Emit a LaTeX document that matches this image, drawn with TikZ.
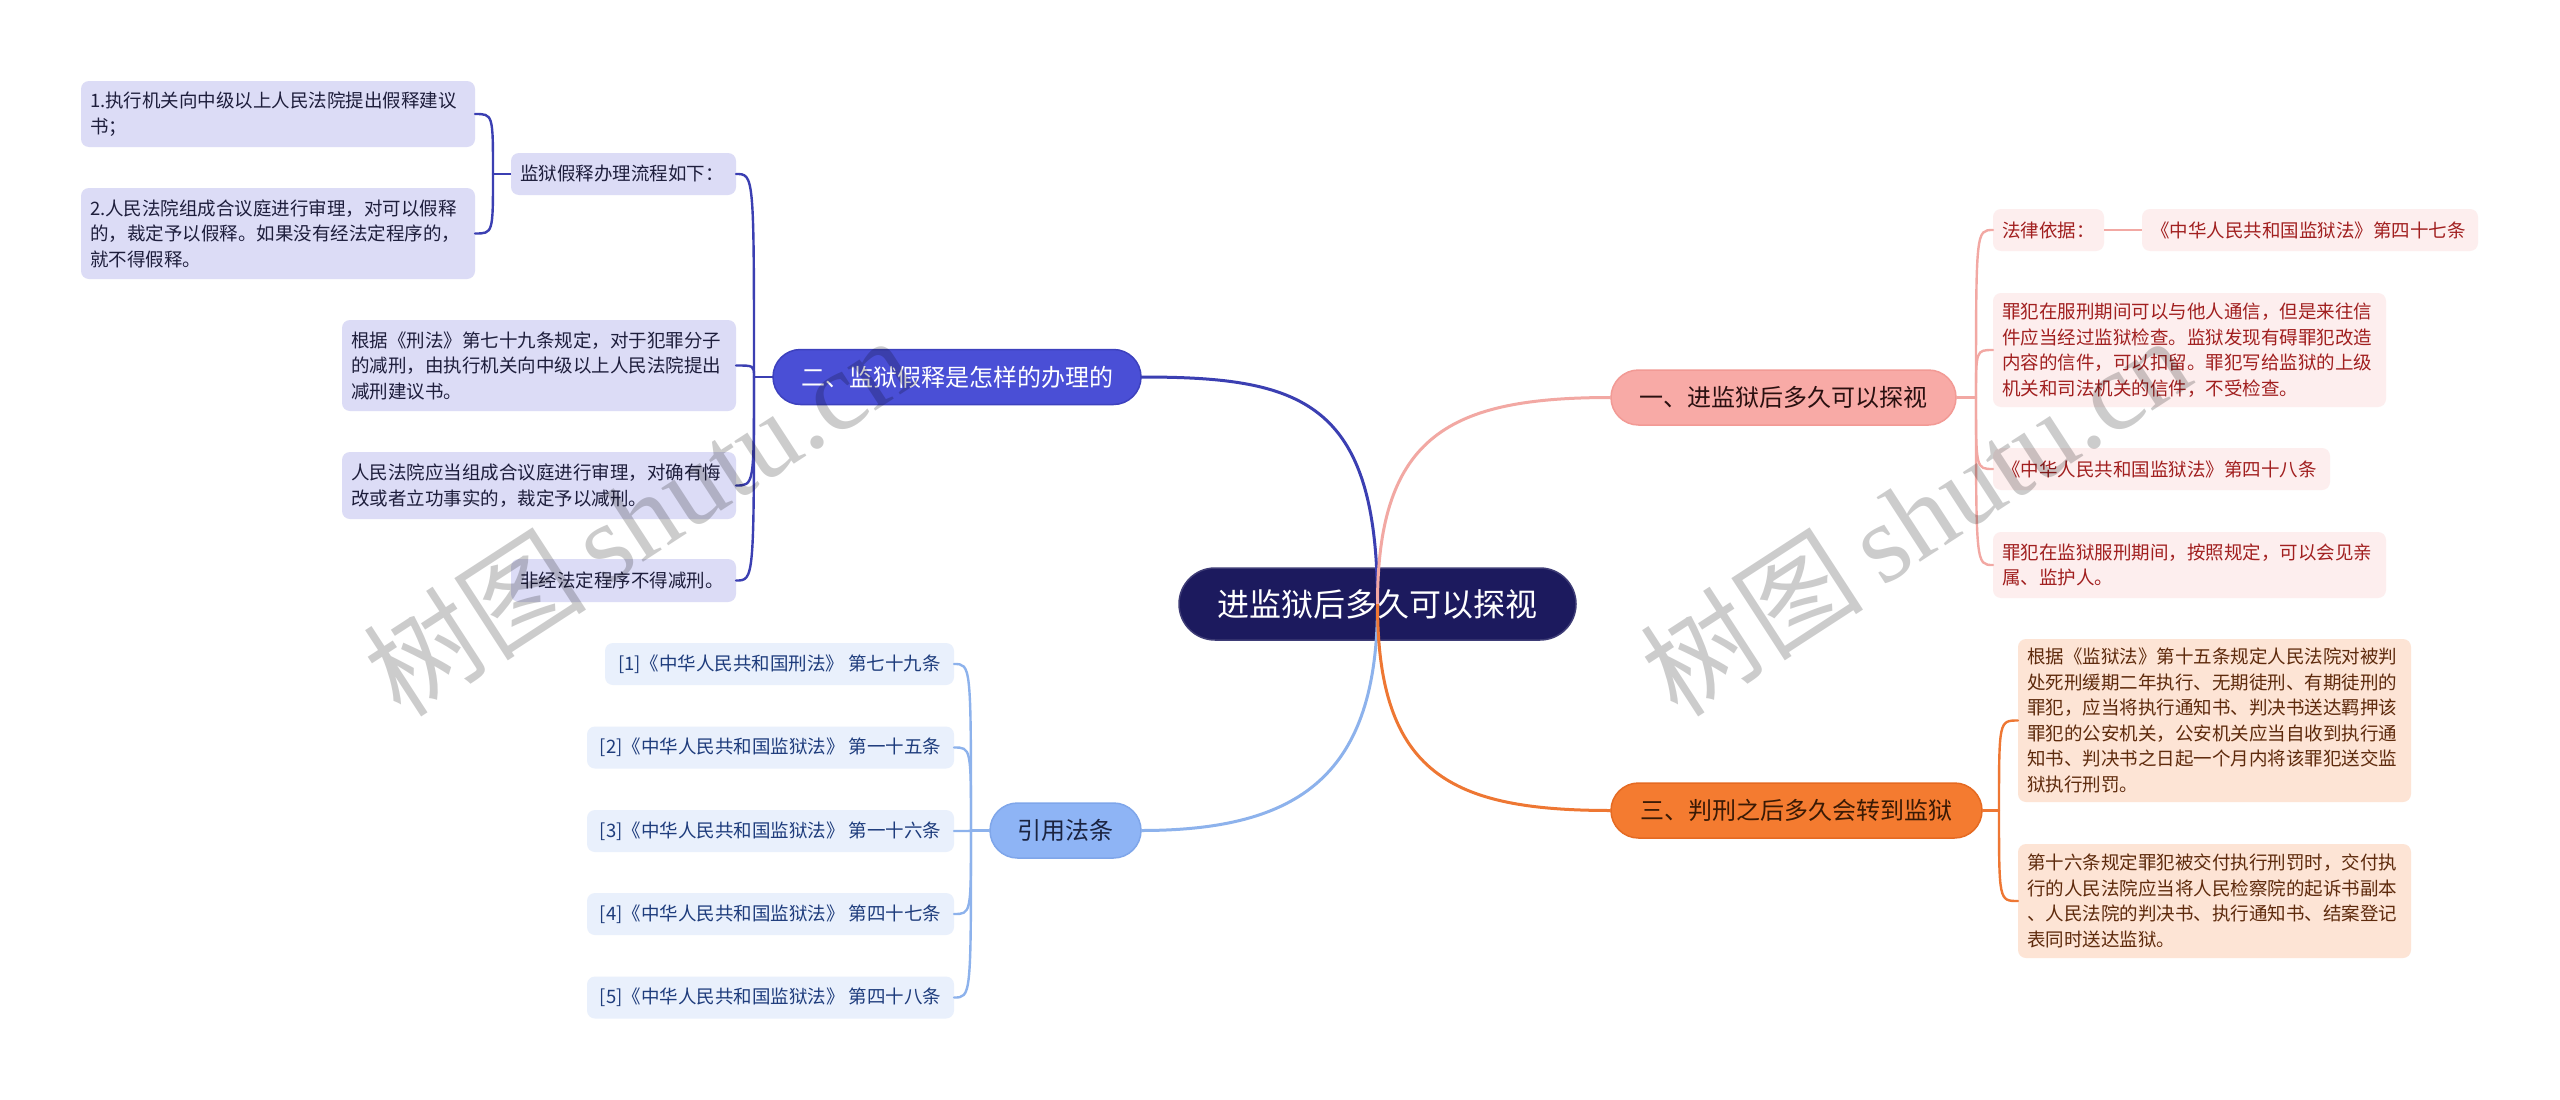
\documentclass[tikz,border=0pt]{standalone}
\usepackage{fontspec}
\setmainfont{Noto Sans CJK SC}
\newfontfamily\wmserif{Liberation Serif}
\newcommand\smallfs{\fontsize{18.5}{25.5}\selectfont}
\newcommand\branchfs{\fontsize{24}{28}\selectfont}
\newcommand\rootfs{\fontsize{32}{38}\selectfont}
\newcommand\wmfs{\fontsize{112}{120}\selectfont}
\definecolor{rootc}{HTML}{1C1A5E}
\definecolor{twoc}{HTML}{4A4FD6}
\definecolor{twob}{HTML}{3D41BE}
\definecolor{twol}{HTML}{3B3FB2}
\definecolor{twof}{HTML}{DCDCF6}
\definecolor{twot}{HTML}{1E1E3C}
\definecolor{onec}{HTML}{F8AAA6}
\definecolor{oneb}{HTML}{F29A95}
\definecolor{onel}{HTML}{F2A8A3}
\definecolor{onef}{HTML}{FDEEEE}
\definecolor{onet}{HTML}{A11F1F}
\definecolor{onett}{HTML}{2A1010}
\definecolor{thrc}{HTML}{F47B30}
\definecolor{thrb}{HTML}{E56A22}
\definecolor{thrl}{HTML}{EE7733}
\definecolor{thrf}{HTML}{FDE4D5}
\definecolor{thrt}{HTML}{5E2A0C}
\definecolor{thrtt}{HTML}{3A1A05}
\definecolor{refc}{HTML}{8EB4F5}
\definecolor{refb}{HTML}{7FA6EA}
\definecolor{refl}{HTML}{8DB2EC}
\definecolor{reff}{HTML}{E9F0FC}
\definecolor{reft}{HTML}{1E3C7C}
\definecolor{reftt}{HTML}{1A2340}
\tikzset{
  base/.style={rounded corners=8pt, inner xsep=9pt, inner ysep=0pt, outer sep=0pt, align=left, font=\smallfs},
  twobox/.style={base, fill=twof, text=twot},
  onebox/.style={base, fill=onef, text=onet},
  thrbox/.style={base, fill=thrf, text=thrt},
  refbox/.style={base, fill=reff, text=reft, align=center, minimum height=42pt},
  branch/.style={rounded corners=27.5pt, minimum height=55pt, inner sep=0pt, outer sep=0pt, align=center, font=\branchfs, line width=1.5pt},
  rootbox/.style={rounded corners=36pt, minimum height=72pt, minimum width=397pt, inner sep=0pt, outer sep=0pt, fill=rootc, draw=rootc!85!white, line width=1.5pt, text=white, font=\rootfs},
  mainline/.style={line width=3pt},
  subline/.style={line width=2.4pt},
  wm/.style={text=black, opacity=0.2, rotate=33, font=\wmfs}
}
\begin{document}
\begin{tikzpicture}[x=1pt,y=-1pt]
\fill[white] (0,0) rectangle (2560,1100);
\useasboundingbox (0,0) rectangle (2560,1100);

% ---------- root ----------
\node[rootbox] (root) at (1377.5,604) {进监狱后多久可以探视};

% ---------- branch nodes ----------
\node[branch, fill=twoc, draw=twob, text=white, minimum width=368pt] (B2) at (957,377) {二、监狱假释是怎样的办理的};
\node[branch, fill=refc, draw=refb, text=reftt, minimum width=151pt] (B4) at (1065.5,830.5) {引用法条};
\node[branch, fill=onec, draw=oneb, text=onett, minimum width=345pt] (B1) at (1783.5,397.5) {一、进监狱后多久可以探视};
\node[branch, fill=thrc, draw=thrb, text=thrtt, minimum width=371pt] (B3) at (1796.5,810.5) {三、判刑之后多久会转到监狱};

% ---------- branch 二 children ----------
\node[twobox, text width=207pt, minimum height=42pt] (L0) at (623.5,174) {监狱假释办理流程如下：};
\node[twobox, text width=376pt, minimum height=66pt] (L1) at (278,114) {1.执行机关向中级以上人民法院提出假释建议\\书；};
\node[twobox, text width=376pt, minimum height=91pt] (L2) at (278,233.5) {2.人民法院组成合议庭进行审理，对可以假释\\的，裁定予以假释。如果没有经法定程序的，\\就不得假释。};
\node[twobox, text width=376pt, minimum height=91pt] (L3) at (539,365.5) {根据《刑法》第七十九条规定，对于犯罪分子\\的减刑，由执行机关向中级以上人民法院提出\\减刑建议书。};
\node[twobox, text width=376pt, minimum height=67pt] (L4) at (539,485.5) {人民法院应当组成合议庭进行审理，对确有悔\\改或者立功事实的，裁定予以减刑。};
\node[twobox, text width=207pt, minimum height=43pt] (L5) at (623.5,580.5) {非经法定程序不得减刑。};

% ---------- 引用法条 children ----------
\node[refbox, minimum width=349pt, anchor=east] (R1) at (954,664) {[1]《中华人民共和国刑法》 第七十九条};
\node[refbox, minimum width=367pt, anchor=east] (R2) at (954,747.5) {[2]《中华人民共和国监狱法》 第一十五条};
\node[refbox, minimum width=367pt, anchor=east] (R3) at (954,831) {[3]《中华人民共和国监狱法》 第一十六条};
\node[refbox, minimum width=367pt, anchor=east] (R4) at (954,914) {[4]《中华人民共和国监狱法》 第四十七条};
\node[refbox, minimum width=367pt, anchor=east] (R5) at (954,997.5) {[5]《中华人民共和国监狱法》 第四十八条};

% ---------- branch 一 children ----------
\node[onebox, text width=93pt, minimum height=42pt] (A0) at (2048.5,230) {法律依据：};
\node[onebox, text width=318pt, minimum height=42pt] (A1) at (2310,230) {《中华人民共和国监狱法》第四十七条};
\node[onebox, text width=375pt, minimum height=114pt] (A2) at (2189.5,350) {罪犯在服刑期间可以与他人通信，但是来往信\\件应当经过监狱检查。监狱发现有碍罪犯改造\\内容的信件，可以扣留。罪犯写给监狱的上级\\机关和司法机关的信件，不受检查。};
\node[onebox, text width=319pt, minimum height=42pt] (A3) at (2161.5,469) {《中华人民共和国监狱法》第四十八条};
\node[onebox, text width=375pt, minimum height=66pt] (A4) at (2189.5,565) {罪犯在监狱服刑期间，按照规定，可以会见亲\\属、监护人。};

% ---------- branch 三 children ----------
\node[thrbox, text width=375pt, minimum height=163pt] (C1) at (2214.5,720.5) {根据《监狱法》第十五条规定人民法院对被判\\处死刑缓期二年执行、无期徒刑、有期徒刑的\\罪犯，应当将执行通知书、判决书送达羁押该\\罪犯的公安机关，公安机关应当自收到执行通\\知书、判决书之日起一个月内将该罪犯送交监\\狱执行刑罚。};
\node[thrbox, text width=375pt, minimum height=114pt] (C2) at (2214.5,901) {第十六条规定罪犯被交付执行刑罚时，交付执\\行的人民法院应当将人民检察院的起诉书副本\\、人民法院的判决书、执行通知书、结案登记\\表同时送达监狱。};

% ---------- junctions ----------
\coordinate (J2) at (754,377);
\coordinate (J0) at (493,174);
\coordinate (J4) at (971,830.5);
\coordinate (J1) at (1976,397.5);
\coordinate (J3) at (1999,810.5);

% ---------- sub connectors ----------
\draw[subline, draw=twol] (B2.west) -- (J2);
\foreach \c in {L0,L3,L4,L5}{
  \draw[subline, draw=twol, line cap=round] (J2) .. controls (J2 |- \c.east) and (J2 |- \c.east) .. (\c.east);
}
\draw[subline, draw=twol] (L0.west) -- (J0);
\foreach \c in {L1,L2}{
  \draw[subline, draw=twol, line cap=round] (J0) .. controls (J0 |- \c.east) and (J0 |- \c.east) .. (\c.east);
}
\draw[subline, draw=refl] (B4.west) -- (J4);
\foreach \c in {R1,R2,R3,R4,R5}{
  \draw[subline, draw=refl, line cap=round] (J4) .. controls (J4 |- \c.east) and (J4 |- \c.east) .. (\c.east);
}
\draw[subline, draw=onel] (B1.east) -- (J1);
\foreach \c in {A0,A2,A3,A4}{
  \draw[subline, draw=onel, line cap=round] (J1) .. controls (J1 |- \c.west) and (J1 |- \c.west) .. (\c.west);
}
\draw[subline, draw=onel] (A0.east) -- (A1.west);
\draw[subline, draw=thrl] (B3.east) -- (J3);
\foreach \c in {C1,C2}{
  \draw[subline, draw=thrl, line cap=round] (J3) .. controls (J3 |- \c.west) and (J3 |- \c.west) .. (\c.west);
}

% ---------- main connectors (drawn over the root) ----------
\draw[mainline, draw=twol] (root.center) .. controls +(0,-204) and +(160,0) .. (B2.east);
\draw[mainline, draw=refl] (root.center) .. controls +(0,170) and +(160,0) .. (B4.east);
\draw[mainline, draw=onel] (root.center) .. controls +(0,-170) and +(-160,0) .. (B1.west);
\draw[mainline, draw=thrl] (root.center) .. controls +(0,170) and +(-160,0) .. (B3.west);

% ---------- watermark ----------
\node[wm] (wm1) at (638,515) {树图\,{\wmserif shutu.cn}};
\node[wm] (wm2) at (1915,515) {树图\,{\wmserif shutu.cn}};
\end{tikzpicture}
\end{document}
